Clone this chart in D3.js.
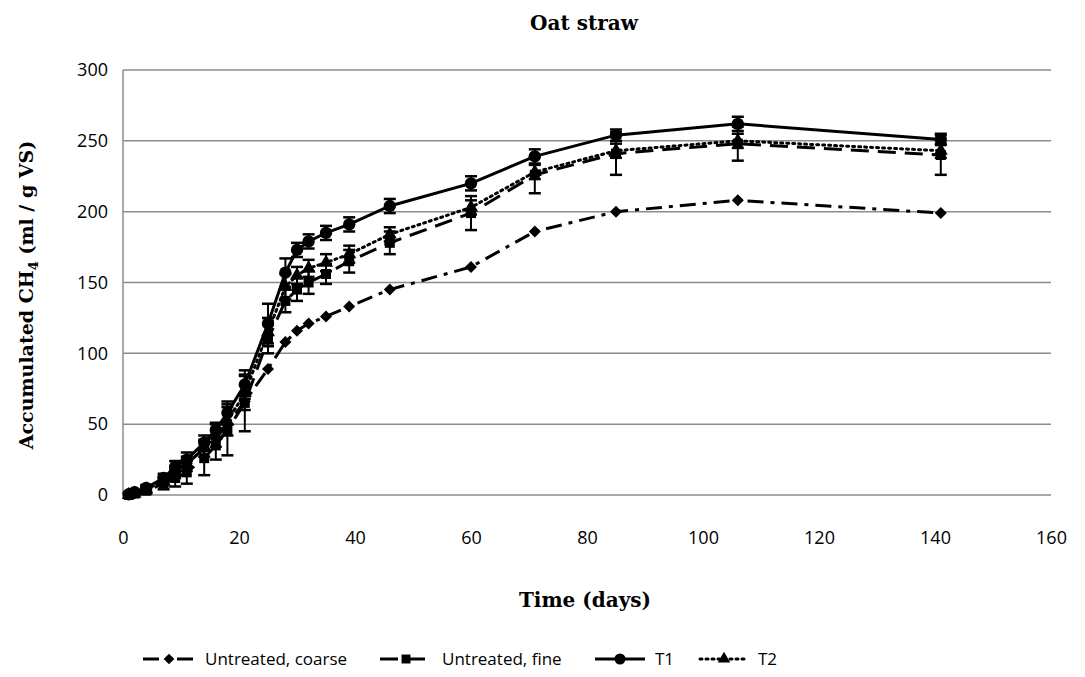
<!DOCTYPE html>
<html><head><meta charset="utf-8">
<script src="https://cdn.jsdelivr.net/npm/d3@7"></script>
<style>body{margin:0;background:#fff}</style>
</head><body>
<svg id="c" width="1085" height="677"></svg>
<script>
const days = [1, 2, 4, 7, 9, 11, 14, 16, 18, 21, 25, 28, 30, 32, 35, 39, 46, 60, 71, 85, 106, 141];
const coarse = [1, 2, 5, 11, 17, 22, 33, 40, 50, 66, 89, 108, 116, 121, 126, 133, 145, 161, 186, 200, 208, 199];
const coarseErr = [0, 0, 0, 0, 0, 0, 0, 0, 0, 0, 0, 0, 0, 0, 0, 0, 0, 0, 0, 0, 0, 0];
const fine = [0, 1, 3, 8, 12, 16, 26, 35, 46, 65, 110, 137, 145, 150, 156, 165, 178, 199, 226, 241, 248, 240];
const fineErr = [1, 1, 2, 4, 6, 8, 12, 10, 18, 20, 10, 8, 8, 8, 7, 8, 8, 12, 13, 15, 12, 14];
const t1 = [0.5, 2, 5, 12, 20, 25, 37, 46, 58, 78, 121, 157, 173, 179, 185, 191, 204, 220, 239, 254, 262, 251];
const t1Err = [1, 1, 2, 3, 4, 5, 5, 5, 8, 10, 14, 10, 5, 5, 5, 5, 5, 5, 5, 4, 5, 4];
const t2 = [0, 1, 4, 10, 16, 22, 33, 42, 52, 72, 115, 147, 155, 160, 164, 170, 184, 203, 228, 243, 250, 243];
const t2Err = [1, 1, 2, 3, 4, 5, 6, 8, 10, 12, 10, 9, 6, 6, 6, 6, 5, 5, 5, 5, 5, 5];
const seriesNames = ["Untreated, coarse", "Untreated, fine", "T1", "T2"];
const xTicks = [0, 20, 40, 60, 80, 100, 120, 140, 160];
const yTicks = [0, 50, 100, 150, 200, 250, 300];

const svg = d3.select("#c");
const L = 123, R = 1051, T = 70, B = 495;
const x = d3.scaleLinear().domain([0, 160]).range([L, R]);
const y = d3.scaleLinear().domain([0, 300]).range([B, T]);

svg.append("g").selectAll("line").data(yTicks).join("line")
  .attr("x1", L).attr("x2", R).attr("y1", d => y(d)).attr("y2", d => y(d))
  .attr("stroke", "#8c8c8c").attr("stroke-width", 1.5);
svg.append("line").attr("x1", L).attr("x2", L).attr("y1", T).attr("y2", B)
  .attr("stroke", "#8c8c8c").attr("stroke-width", 1.5);

const tickFont = "'Open Sans', 'Noto Sans', sans-serif";
const yAxis = d3.axisLeft(y).tickValues(yTicks).tickSize(0).tickPadding(15);
const gy = svg.append("g").attr("transform", `translate(${L},0)`).call(yAxis);
gy.select(".domain").remove();
gy.selectAll("text").attr("font-family", tickFont).attr("font-size", 18).attr("fill", "#000");

const xAxis = d3.axisBottom(x).tickValues(xTicks).tickSize(0).tickPadding(36);
const gx = svg.append("g").attr("transform", `translate(0,${B})`).call(xAxis);
gx.select(".domain").remove();
gx.selectAll("text").attr("font-family", tickFont).attr("font-size", 18).attr("fill", "#000");

const serif = "'DejaVu Serif', serif";
svg.append("text").attr("x", 584).attr("y", 30).attr("text-anchor", "middle")
  .attr("font-family", serif).attr("font-weight", "bold").attr("font-size", 20).text("Oat straw");
svg.append("text").attr("x", 585).attr("y", 607).attr("text-anchor", "middle")
  .attr("font-family", serif).attr("font-weight", "bold").attr("font-size", 20).text("Time (days)");
const yt = svg.append("text").attr("transform", "translate(33,295) rotate(-90)").attr("text-anchor", "middle")
  .attr("font-family", serif).attr("font-weight", "bold").attr("font-size", 19);
yt.append("tspan").text("Accumulated CH");
yt.append("tspan").attr("font-size", 13).attr("dy", 5).text("4");
yt.append("tspan").attr("dy", -5).text(" (ml / g VS)");

const series = [
  {name: seriesNames[0], v: coarse, e: coarseErr, dash: "16,7,4,7", sym: d3.symbolSquare, rot: 45, size: 72},
  {name: seriesNames[1], v: fine, e: fineErr, dash: "18,9", sym: d3.symbolSquare, rot: 0, size: 100},
  {name: seriesNames[2], v: t1, e: t1Err, dash: null, sym: d3.symbolCircle, rot: 0, size: 120},
  {name: seriesNames[3], v: t2, e: t2Err, dash: "2,4", sym: d3.symbolTriangle, rot: 0, size: 85},
];

const line = d3.line().x(d => x(d[0])).y(d => y(d[1]));
series.forEach(s => {
  const pts = days.map((d, i) => [d, s.v[i], s.e[i]]);
  const g = svg.append("g");
  g.append("path").datum(pts).attr("d", line).attr("fill", "none").attr("stroke", "#000")
    .attr("stroke-width", 3).attr("stroke-dasharray", s.dash).attr("stroke-linecap", s.dash === "2,4" ? "round" : "butt");
  const eb = g.append("g").selectAll("g").data(pts.filter(p => p[2] > 0)).join("g");
  eb.append("line").attr("x1", d => x(d[0])).attr("x2", d => x(d[0]))
    .attr("y1", d => y(d[1] - d[2])).attr("y2", d => y(d[1] + d[2])).attr("stroke", "#000").attr("stroke-width", 2);
  [1, -1].forEach(k => eb.append("line").attr("x1", d => x(d[0]) - 6).attr("x2", d => x(d[0]) + 6)
    .attr("y1", d => y(d[1] + k * d[2])).attr("y2", d => y(d[1] + k * d[2])).attr("stroke", "#000").attr("stroke-width", 2.5));
  g.append("g").selectAll("path").data(pts).join("path")
    .attr("transform", d => `translate(${x(d[0])},${y(d[1])}) rotate(${s.rot})`)
    .attr("d", d3.symbol().type(s.sym).size(s.size)).attr("fill", "#000");
});

const legX = [143, 380, 595, 700];
const legW = [52, 52, 50, 48];
series.forEach((s, i) => {
  const lg = svg.append("g").attr("transform", `translate(${legX[i]},659)`);
  lg.append("line").attr("x1", 0).attr("x2", legW[i]).attr("y1", 0).attr("y2", 0)
    .attr("stroke", "#000").attr("stroke-width", 3).attr("stroke-dasharray", s.dash)
    .attr("stroke-linecap", s.dash === "2,4" ? "round" : "butt");
  lg.append("path").attr("transform", `translate(${legW[i] / 2},0) rotate(${s.rot})`)
    .attr("d", d3.symbol().type(s.sym).size(s.size * 0.8)).attr("fill", "#000");
  lg.append("text").attr("x", legW[i] + 10).attr("y", 6).attr("font-family", tickFont)
    .attr("font-size", 17).text(s.name);
});
</script>
</body></html>
